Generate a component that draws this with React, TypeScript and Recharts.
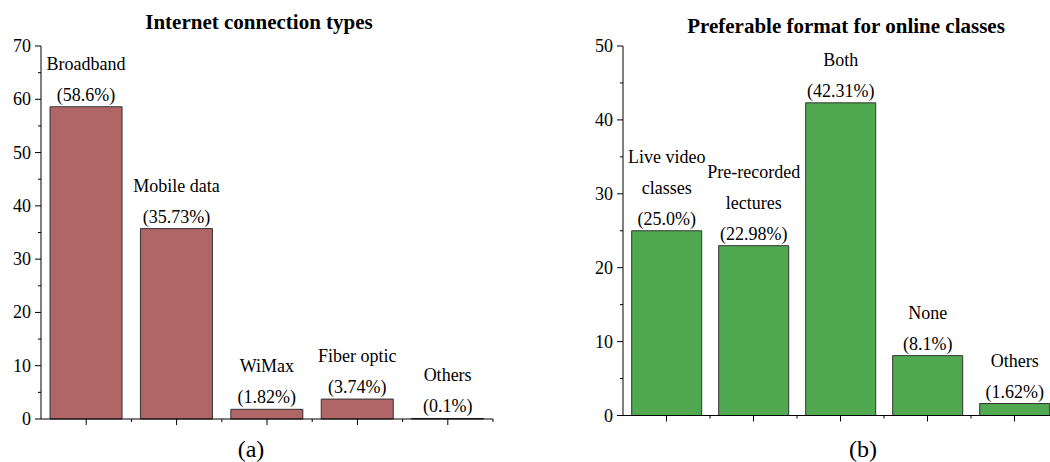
import React from 'react';
import { BarChart, Bar, XAxis, YAxis, LabelList } from 'recharts';

const FONT = "'Liberation Serif', 'Times New Roman', serif";

// Left chart: Internet connection types
const connectionTypes = ['Broadband', 'Mobile data', 'WiMax', 'Fiber optic', 'Others'];
const connectionLabelLines = [['Broadband'], ['Mobile data'], ['WiMax'], ['Fiber optic'], ['Others']];
const connectionValues = [58.6, 35.73, 1.82, 3.74, 0.1];
const connectionPercents = ['(58.6%)', '(35.73%)', '(1.82%)', '(3.74%)', '(0.1%)'];
const connectionTicks = [0, 5, 10, 15, 20, 25, 30, 35, 40, 45, 50, 55, 60, 65, 70];

// Right chart: Preferable format for online classes
const formatTypes = ['Live video classes', 'Pre-recorded lectures', 'Both', 'None', 'Others'];
const formatLabelLines = [['Live video', 'classes'], ['Pre-recorded', 'lectures'], ['Both'], ['None'], ['Others']];
const formatValues = [25.0, 22.98, 42.31, 8.1, 1.62];
const formatPercents = ['(25.0%)', '(22.98%)', '(42.31%)', '(8.1%)', '(1.62%)'];
const formatTicks = [0, 5, 10, 15, 20, 25, 30, 35, 40, 45, 50];

const connectionData = connectionTypes.map((name, i) => ({
  name,
  value: connectionValues[i],
  pct: connectionPercents[i],
  lines: connectionLabelLines[i],
}));
const formatData = formatTypes.map((name, i) => ({
  name,
  value: formatValues[i],
  pct: formatPercents[i],
  lines: formatLabelLines[i],
}));

const TS = 6;
const TM = 2;
const textStyle = { fontFamily: FONT, fontSize: 18, fill: '#000' };

const YTick = (props: any) => {
  const { x, y, payload } = props;
  const v = payload.value;
  const major = v % 10 === 0;
  const ax = x + TS + TM;
  return (
    <g>
      <line x1={ax - (major ? 6 : 3)} x2={ax} y1={y} y2={y} stroke="#000" strokeWidth={1} />
      {major && (
        <text x={ax - 10} y={y} textAnchor="end" dominantBaseline="central" style={textStyle}>
          {v}
        </text>
      )}
    </g>
  );
};

const XTick = (props: any) => {
  const { x, y, band } = props;
  const ay = y - TS - TM;
  const bx = x + band / 2;
  return (
    <g>
      <line x1={x} x2={x} y1={ay} y2={ay + 6} stroke="#000" strokeWidth={1} />
      <line x1={bx} x2={bx} y1={ay} y2={ay + 3} stroke="#000" strokeWidth={1} />
    </g>
  );
};

const makeLabel = (data: any[]) => (props: any) => {
  const vb = props.viewBox || props;
  const x = Number(vb.x ?? props.x);
  const y = Number(vb.y ?? props.y);
  const w = Number(vb.width ?? props.width);
  const idx = props.index;
  const d = data[idx];
  if (!d) return null;
  const cx = x + w / 2;
  const all = [...d.lines, d.pct];
  const n = all.length;
  return (
    <g>
      {all.map((t: string, k: number) => (
        <text
          key={k}
          x={cx}
          y={y - 12 - (n - 1 - k) * 31}
          textAnchor="middle"
          dominantBaseline="central"
          style={textStyle}
        >
          {t}
        </text>
      ))}
    </g>
  );
};

function Panel(props: {
  data: any[];
  ticks: number[];
  max: number;
  fill: string;
  yWidth: number;
  margin: any;
}) {
  const { data, ticks, max, fill, yWidth, margin } = props;
  const plotWidth = 520 - margin.left - margin.right - yWidth;
  const band = plotWidth / data.length;
  return (
    <BarChart width={520} height={462} data={data} margin={margin} barCategoryGap="10%">
      <XAxis
        dataKey="name"
        tick={<XTick band={band} />}
        tickSize={TS}
        tickMargin={TM}
        height={20}
        interval={0}
        axisLine={{ stroke: '#000' }}
        tickLine={false}
      />
      <YAxis
        domain={[0, max]}
        ticks={ticks}
        interval={0}
        width={yWidth}
        tickSize={TS}
        tickMargin={TM}
        tickLine={false}
        axisLine={{ stroke: '#000' }}
        tick={<YTick />}
      />
      <Bar dataKey="value" fill={fill} stroke="#333" strokeWidth={1} isAnimationActive={false}>
        <LabelList dataKey="pct" content={makeLabel(data)} />
      </Bar>
    </BarChart>
  );
}

export default function App() {
  return (
    <div
      style={{
        position: 'absolute',
        left: 0,
        top: 0,
        width: 1050,
        height: 462,
        overflow: 'hidden',
        background: '#fff',
      }}
    >
      <div style={{ position: 'absolute', left: 0, top: 0 }}>
        <Panel
          data={connectionData}
          ticks={connectionTicks}
          max={70}
          fill="#B06666"
          yWidth={41}
          margin={{ top: 46, right: 27, left: 0, bottom: 23 }}
        />
      </div>
      <div style={{ position: 'absolute', left: 560, top: 0 }}>
        <Panel
          data={formatData}
          ticks={formatTicks}
          max={50}
          fill="#50A850"
          yWidth={63}
          margin={{ top: 46, right: 22, left: 0, bottom: 26.5 }}
        />
      </div>
      <svg
        width={1050}
        height={462}
        style={{ position: 'absolute', left: 0, top: 0, pointerEvents: 'none' }}
      >
        <text x={259} y={29} textAnchor="middle" style={{ fontFamily: FONT, fontSize: 21, fontWeight: 'bold', fill: '#000' }}>
          Internet connection types
        </text>
        <text x={846} y={33} textAnchor="middle" style={{ fontFamily: FONT, fontSize: 21, fontWeight: 'bold', fill: '#000' }}>
          Preferable format for online classes
        </text>
        <text x={251} y={457} textAnchor="middle" style={{ fontFamily: FONT, fontSize: 24, fill: '#000' }}>
          (a)
        </text>
        <text x={863} y={457} textAnchor="middle" style={{ fontFamily: FONT, fontSize: 24, fill: '#000' }}>
          (b)
        </text>
      </svg>
    </div>
  );
}
